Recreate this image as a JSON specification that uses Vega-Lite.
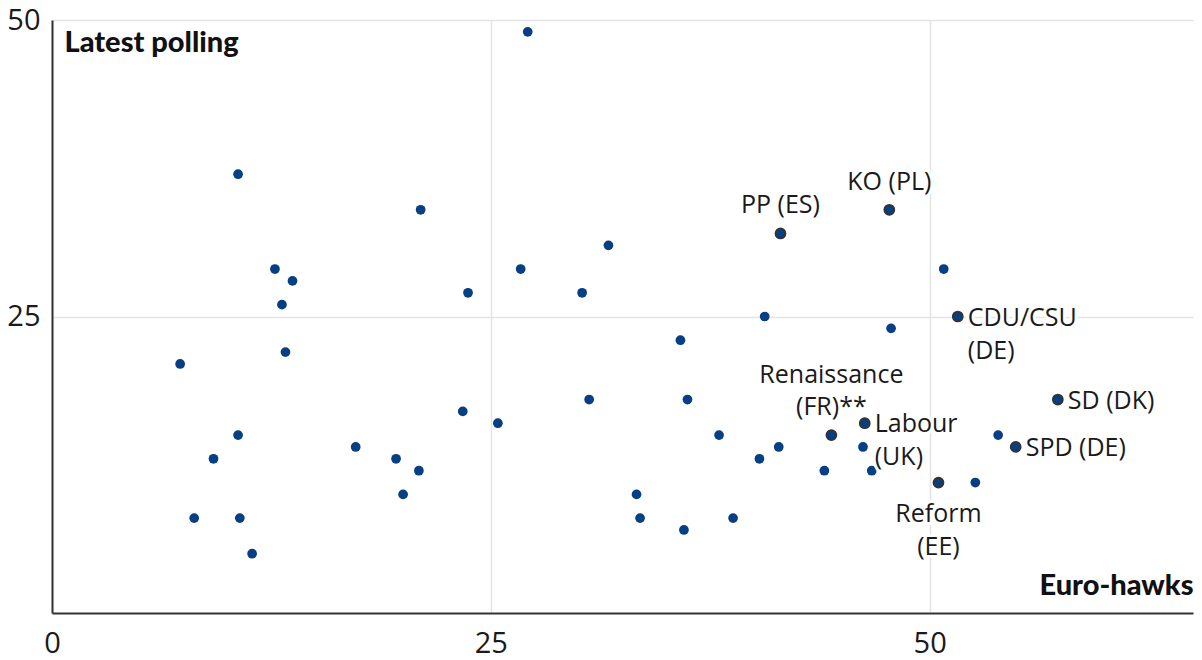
{
  "$schema": "https://vega.github.io/schema/vega-lite/v6.json",
  "width": 1141,
  "height": 593,
  "autosize": {"type": "none"},
  "padding": {"left": 52, "top": 20, "right": 9, "bottom": 47},
  "background": "white",
  "config": {"view": {"stroke": null}, "font": "Open Sans"},
  "data": {"values": [
    {"hawk": 7.3, "poll": 21, "label": "", "pos": ""},
    {"hawk": 8.1, "poll": 8, "label": "", "pos": ""},
    {"hawk": 9.2, "poll": 13, "label": "", "pos": ""},
    {"hawk": 10.6, "poll": 37, "label": "", "pos": ""},
    {"hawk": 10.6, "poll": 15, "label": "", "pos": ""},
    {"hawk": 10.7, "poll": 8, "label": "", "pos": ""},
    {"hawk": 11.4, "poll": 5, "label": "", "pos": ""},
    {"hawk": 12.7, "poll": 29, "label": "", "pos": ""},
    {"hawk": 13.1, "poll": 26, "label": "", "pos": ""},
    {"hawk": 13.3, "poll": 22, "label": "", "pos": ""},
    {"hawk": 13.7, "poll": 28, "label": "", "pos": ""},
    {"hawk": 17.3, "poll": 14, "label": "", "pos": ""},
    {"hawk": 19.6, "poll": 13, "label": "", "pos": ""},
    {"hawk": 20.0, "poll": 10, "label": "", "pos": ""},
    {"hawk": 20.9, "poll": 12, "label": "", "pos": ""},
    {"hawk": 21.0, "poll": 34, "label": "", "pos": ""},
    {"hawk": 23.4, "poll": 17, "label": "", "pos": ""},
    {"hawk": 23.7, "poll": 27, "label": "", "pos": ""},
    {"hawk": 25.4, "poll": 16, "label": "", "pos": ""},
    {"hawk": 26.7, "poll": 29, "label": "", "pos": ""},
    {"hawk": 27.1, "poll": 49, "label": "", "pos": ""},
    {"hawk": 30.2, "poll": 27, "label": "", "pos": ""},
    {"hawk": 30.6, "poll": 18, "label": "", "pos": ""},
    {"hawk": 31.7, "poll": 31, "label": "", "pos": ""},
    {"hawk": 33.3, "poll": 10, "label": "", "pos": ""},
    {"hawk": 33.5, "poll": 8, "label": "", "pos": ""},
    {"hawk": 35.8, "poll": 23, "label": "", "pos": ""},
    {"hawk": 36.0, "poll": 7, "label": "", "pos": ""},
    {"hawk": 36.2, "poll": 18, "label": "", "pos": ""},
    {"hawk": 38.0, "poll": 15, "label": "", "pos": ""},
    {"hawk": 38.8, "poll": 8, "label": "", "pos": ""},
    {"hawk": 40.3, "poll": 13, "label": "", "pos": ""},
    {"hawk": 40.6, "poll": 25, "label": "", "pos": ""},
    {"hawk": 41.4, "poll": 14, "label": "", "pos": ""},
    {"hawk": 41.5, "poll": 32, "label": "PP (ES)", "pos": "above"},
    {"hawk": 44.0, "poll": 12, "label": "", "pos": ""},
    {"hawk": 44.4, "poll": 15, "label": "Renaissance\n(FR)**", "pos": "above2"},
    {"hawk": 46.3, "poll": 16, "label": "Labour\n(UK)", "pos": "right"},
    {"hawk": 46.2, "poll": 14, "label": "", "pos": ""},
    {"hawk": 46.7, "poll": 12, "label": "", "pos": ""},
    {"hawk": 47.7, "poll": 34, "label": "KO (PL)", "pos": "above"},
    {"hawk": 47.8, "poll": 24, "label": "", "pos": ""},
    {"hawk": 50.5, "poll": 11, "label": "Reform\n(EE)", "pos": "below"},
    {"hawk": 50.8, "poll": 29, "label": "", "pos": ""},
    {"hawk": 51.6, "poll": 25, "label": "CDU/CSU\n(DE)", "pos": "right"},
    {"hawk": 52.6, "poll": 11, "label": "", "pos": ""},
    {"hawk": 53.9, "poll": 15, "label": "", "pos": ""},
    {"hawk": 54.9, "poll": 14, "label": "SPD (DE)", "pos": "right"},
    {"hawk": 57.3, "poll": 18, "label": "SD (DK)", "pos": "right"}
  ]},
  "encoding": {
    "x": {
      "field": "hawk", "type": "quantitative",
      "scale": {"domain": [0, 65], "nice": false, "zero": false},
      "axis": {
        "values": [0, 25, 50], "grid": true, "gridColor": "#e4e4e4", "gridWidth": 1.5,
        "domainColor": "#333333", "domainWidth": 2, "ticks": false,
        "labelFont": "Open Sans", "labelFontSize": 29, "labelColor": "#1a1a1a", "labelPadding": 16,
        "labelFlush": false,
        "title": "Euro-hawks", "titleFont": "Lato", "titleFontWeight": 900, "titleFontSize": 29,
        "titleColor": "#111111", "titleAlign": "right", "titleAnchor": null, "titleBaseline": "middle",
        "titleX": 1141, "titleY": -28
      }
    },
    "y": {
      "field": "poll", "type": "quantitative",
      "scale": {"domain": [0, 50], "nice": false},
      "axis": {
        "values": [25, 50], "grid": true, "gridColor": "#e4e4e4", "gridWidth": 1.5,
        "domainColor": "#333333", "domainWidth": 2, "ticks": false,
        "labelFont": "Open Sans", "labelFontSize": 29, "labelColor": "#1a1a1a", "labelPadding": 12,
        "labelFlush": false,
        "title": "Latest polling", "titleFont": "Lato", "titleFontWeight": 900, "titleFontSize": 29,
        "titleColor": "#111111", "titleAngle": 0, "titleAlign": "left", "titleAnchor": null, "titleBaseline": "middle",
        "titleX": 12, "titleY": 22
      }
    }
  },
  "layer": [
    {
      "transform": [{"filter": "!datum.label"}],
      "mark": {"type": "circle", "size": 95, "color": "#063f84", "opacity": 1}
    },
    {
      "transform": [{"filter": "datum.label"}],
      "mark": {"type": "circle", "size": 95, "fill": "#063f84", "stroke": "#333333", "strokeWidth": 2, "opacity": 1}
    },
    {
      "transform": [{"filter": "datum.pos == 'right'"}],
      "layer": [
        {"mark": {"type": "text", "align": "left", "baseline": "top", "dx": 10, "dy": -11, "lineBreak": "\n", "lineHeight": 33, "font": "Open Sans", "fontSize": 25, "stroke": "white", "strokeWidth": 6, "strokeJoin": "round", "fill": "white"},
         "encoding": {"text": {"field": "label"}}},
        {"mark": {"type": "text", "align": "left", "baseline": "top", "dx": 10, "dy": -11, "lineBreak": "\n", "lineHeight": 33, "font": "Open Sans", "fontSize": 25, "fill": "#1a1a1a"},
         "encoding": {"text": {"field": "label"}}}
      ]
    },
    {
      "transform": [{"filter": "datum.pos == 'above'"}],
      "layer": [
        {"mark": {"type": "text", "align": "center", "baseline": "bottom", "dy": -15, "lineBreak": "\n", "lineHeight": 33, "font": "Open Sans", "fontSize": 25, "stroke": "white", "strokeWidth": 6, "strokeJoin": "round", "fill": "white"},
         "encoding": {"text": {"field": "label"}}},
        {"mark": {"type": "text", "align": "center", "baseline": "bottom", "dy": -15, "lineBreak": "\n", "lineHeight": 33, "font": "Open Sans", "fontSize": 25, "fill": "#1a1a1a"},
         "encoding": {"text": {"field": "label"}}}
      ]
    },
    {
      "transform": [{"filter": "datum.pos == 'above2'"}],
      "layer": [
        {"mark": {"type": "text", "align": "center", "baseline": "bottom", "dy": -47, "lineBreak": "\n", "lineHeight": 32, "font": "Open Sans", "fontSize": 25, "stroke": "white", "strokeWidth": 6, "strokeJoin": "round", "fill": "white"},
         "encoding": {"text": {"field": "label"}}},
        {"mark": {"type": "text", "align": "center", "baseline": "bottom", "dy": -47, "lineBreak": "\n", "lineHeight": 32, "font": "Open Sans", "fontSize": 25, "fill": "#1a1a1a"},
         "encoding": {"text": {"field": "label"}}}
      ]
    },
    {
      "transform": [{"filter": "datum.pos == 'below'"}],
      "layer": [
        {"mark": {"type": "text", "align": "center", "baseline": "top", "dy": 19, "lineBreak": "\n", "lineHeight": 33, "font": "Open Sans", "fontSize": 25, "stroke": "white", "strokeWidth": 6, "strokeJoin": "round", "fill": "white"},
         "encoding": {"text": {"field": "label"}}},
        {"mark": {"type": "text", "align": "center", "baseline": "top", "dy": 19, "lineBreak": "\n", "lineHeight": 33, "font": "Open Sans", "fontSize": 25, "fill": "#1a1a1a"},
         "encoding": {"text": {"field": "label"}}}
      ]
    }
  ]
}
